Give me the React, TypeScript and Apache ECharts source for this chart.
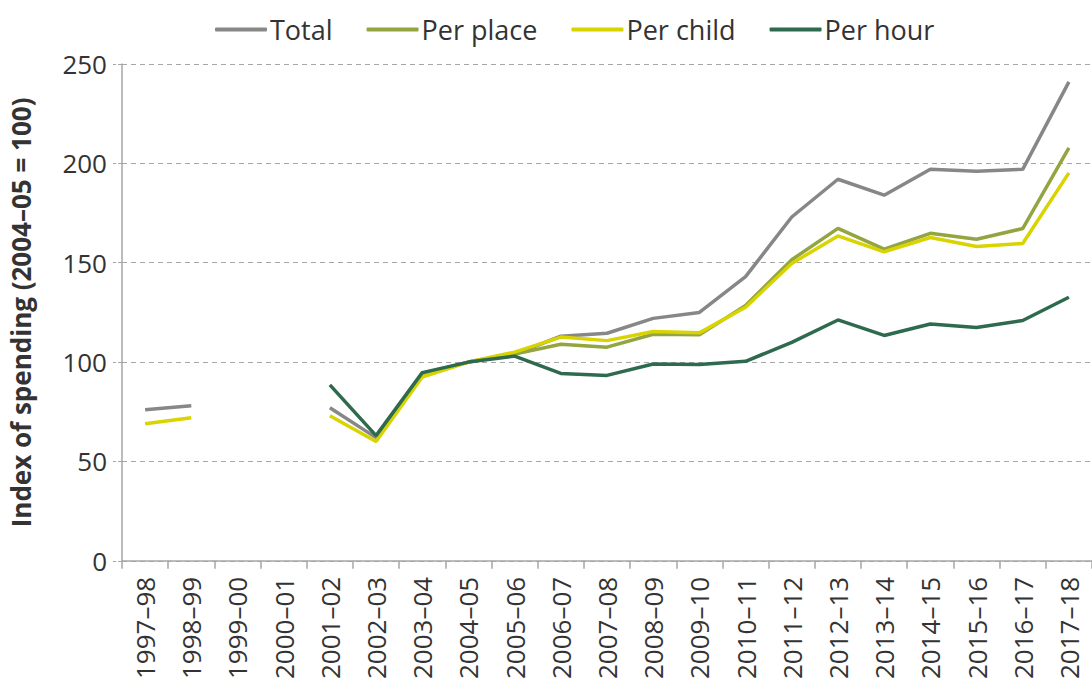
import React, { useEffect, useRef } from "react";
import * as echarts from "echarts";

const categories = [
  "1997–98", "1998–99", "1999–00", "2000–01", "2001–02", "2002–03", "2003–04",
  "2004–05", "2005–06", "2006–07", "2007–08", "2008–09", "2009–10", "2010–11",
  "2011–12", "2012–13", "2013–14", "2014–15", "2015–16", "2016–17", "2017–18",
];

const total = [76, 78, null, null, 77, 62, 94, 100, 104, 113, 114.5, 122, 125, 143, 173, 192, 184, 197, 196, 197, 241];
const perPlace = [null, null, null, null, null, null, 94, 100, 104, 109, 107.5, 114, 113.7, 128.5, 151.5, 167.3, 156.8, 164.8, 161.8, 167.2, 207.8];
const perChild = [69, 72, null, null, 73, 60, 92.5, 100, 105, 112.6, 110.8, 115.4, 114.7, 127.6, 149.6, 163.5, 155.5, 162.7, 158.2, 159.7, 195.2];
const perHour = [null, null, null, null, 88.5, 63, 94.7, 100, 103, 94.3, 93.3, 99, 98.8, 100.4, 109.9, 121.2, 113.4, 119.2, 117.4, 120.9, 132.6];

const seriesNames = ["Total", "Per place", "Per child", "Per hour"];
const seriesColors = ["#878787", "#93a540", "#d9d300", "#2e6a4e"];
const seriesData = [total, perPlace, perChild, perHour];

const FONT = "'Open Sans', 'Noto Sans', sans-serif";

export default function App() {
  const ref = useRef<HTMLDivElement>(null);
  useEffect(() => {
    if (!ref.current) return;
    const chart = echarts.init(ref.current, null, { renderer: "svg" });
    chart.setOption({
      animation: false,
      textStyle: { fontFamily: FONT },
      legend: {
        top: 11,
        left: 210,
        itemWidth: 52,
        itemHeight: 4,
        itemGap: 34,
        icon: "roundRect",
        textStyle: { fontSize: 27, color: "#333", fontFamily: FONT, padding: [0, 0, 0, -2] },
        data: seriesNames,
      },
      grid: { left: 122, right: -9, top: 64, bottom: 119, containLabel: false },
      xAxis: {
        type: "category",
        data: categories,
        boundaryGap: true,
        axisLine: { lineStyle: { color: "#a6a6a6", width: 1.5 } },
        axisTick: { show: true, length: 8, lineStyle: { color: "#a6a6a6", width: 1.5 } },
        axisLabel: { rotate: 90, fontSize: 26, color: "#333", margin: 16, interval: 0, fontFamily: FONT },
      },
      yAxis: {
        type: "value",
        min: 0,
        max: 250,
        interval: 50,
        name: "Index of spending (2004–05 = 100)",
        nameLocation: "middle",
        nameGap: 88,
        nameTextStyle: { fontSize: 26, fontWeight: "bold", color: "#333", fontFamily: FONT },
        axisLine: { show: true, lineStyle: { color: "#a6a6a6", width: 1.5 } },
        axisTick: { show: true, length: 9, lineStyle: { color: "#a6a6a6", width: 1, type: "dashed" } },
        axisLabel: { fontSize: 26, color: "#333", margin: 15, fontFamily: FONT },
        splitLine: { show: true, lineStyle: { color: "#a6a6a6", width: 1, type: [5, 4] } },
      },
      series: seriesNames.map((name, i) => ({
        name,
        type: "line",
        data: seriesData[i],
        symbol: "none",
        connectNulls: false,
        itemStyle: { color: seriesColors[i] },
        lineStyle: { color: seriesColors[i], width: 3.5 },
        z: i === 3 ? 5 : 2 + (i === 2 ? 1 : 0),
      })),
    });
    return () => chart.dispose();
  }, []);
  return (
    <div
      ref={ref}
      style={{ position: "fixed", left: 0, top: 0, width: 1092, height: 682, background: "#fff" }}
    />
  );
}
